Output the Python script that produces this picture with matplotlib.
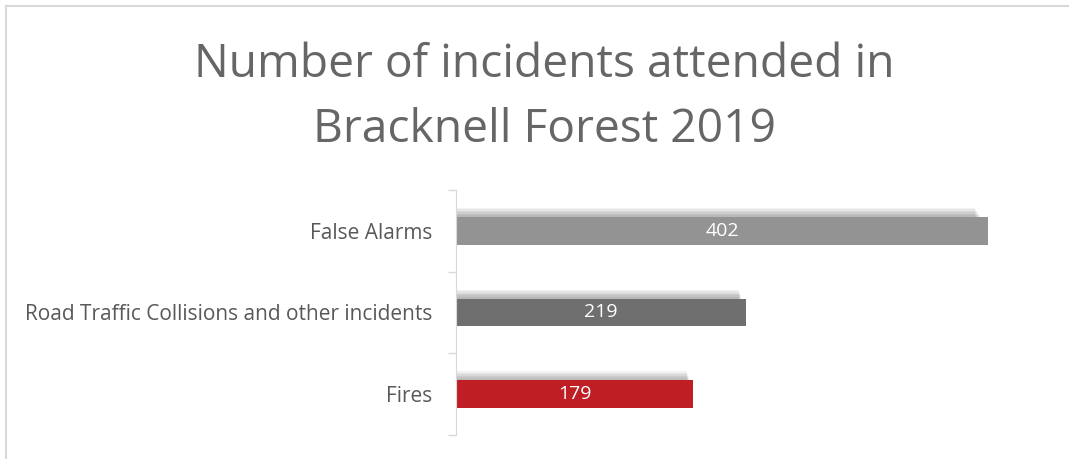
import matplotlib.pyplot as plt
from matplotlib.lines import Line2D

plt.rcParams['font.family'] = ['Open Sans', 'DejaVu Sans']

categories = ['Fires', 'Road Traffic Collisions and other incidents', 'False Alarms']
values = [179, 219, 402]
colors = ['#be1e24', '#6f6f6f', '#939393']

fig = plt.figure(figsize=(10.69, 4.59), dpi=100)
ax = fig.add_axes([0.4266, 0.0523, 0.557, 0.534])

pos = list(range(len(categories)))

# soft shadow above each bar
for k in range(6):
    off = 0.02 + k * 0.018
    ax.barh([p + off for p in pos], [v * (0.985 - k * 0.002) for v in values],
            height=0.34, color='#000000', alpha=0.05, linewidth=0, zorder=1)

bars = ax.barh(pos, values, height=0.34, color=colors, linewidth=0, zorder=2)
for b, v in zip(bars, values):
    ax.text(b.get_width() / 2, b.get_y() + b.get_height() / 2, str(v),
            ha='center', va='center', color='white', fontsize=14, zorder=3)

ax.set_xlim(0, 450)
ax.set_ylim(-0.5, 2.5)
ax.set_yticks([-0.5, 0.5, 1.5, 2.5])
ax.set_yticklabels([])
ax.set_yticks(pos, minor=True)
ax.set_yticklabels(categories, minor=True)
ax.tick_params(axis='y', which='major', length=6, color='#d9d9d9', width=1)
ax.tick_params(axis='y', which='minor', length=0, pad=17, labelsize=15, labelcolor='#595959')
ax.set_xticks([])
for s in ['top', 'right', 'bottom']:
    ax.spines[s].set_visible(False)
ax.spines['left'].set_color('#d9d9d9')

fig.text(0.509, 1 - 65 / 459, 'Number of incidents attended in', ha='center', va='center',
         fontsize=33.2, color='#666666')
fig.text(0.509, 1 - 130 / 459, 'Bracknell Forest 2019', ha='center', va='center',
         fontsize=33.2, color='#666666')

# chart frame (top and left edge)
fig.add_artist(Line2D([6 / 1069, 1], [1 - 6 / 459, 1 - 6 / 459], transform=fig.transFigure,
                      color='#d9d9d9', linewidth=1.5))
fig.add_artist(Line2D([6 / 1069, 6 / 1069], [0, 1 - 6 / 459], transform=fig.transFigure,
                      color='#d9d9d9', linewidth=1.5))

fig.savefig('out.png', dpi=100)
